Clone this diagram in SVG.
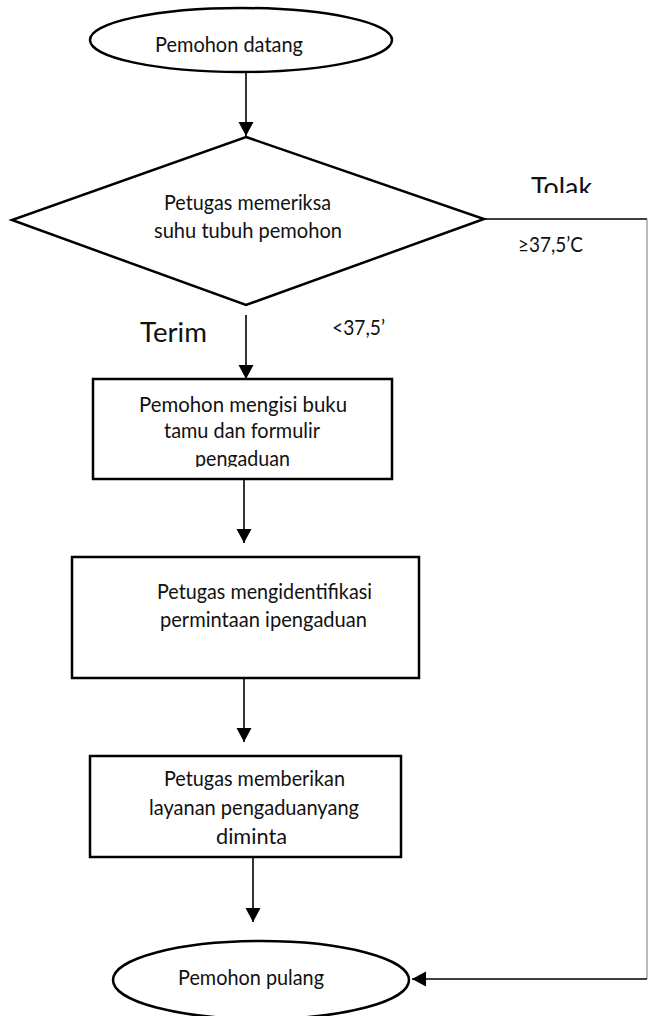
<svg xmlns="http://www.w3.org/2000/svg" width="648" height="1016" viewBox="0 0 648 1016">
<style>
.shape{fill:#fff;stroke:#000;stroke-width:2.5}
.t{font-family:Lato,"Liberation Sans",sans-serif;font-size:21px;fill:#111;text-anchor:middle}
.big{font-size:27px}
.c{fill:none;stroke:#000;stroke-width:1.6}
.thin{fill:none;stroke:#777;stroke-width:1}
</style>
<defs>
<marker id="ah" markerUnits="userSpaceOnUse" markerWidth="16" markerHeight="16" refX="14" refY="7.5" orient="auto">
<path d="M0,0 L14,7.5 L0,15 Z" fill="#000"/>
</marker>
<clipPath id="clipTolak"><rect x="500" y="150" width="140" height="43"/></clipPath>
<clipPath id="clipBox1"><rect x="95" y="381" width="295" height="86"/></clipPath>
</defs>
<rect width="648" height="1016" fill="#fff"/>

<g id="connectors">
<line class="c" x1="246" y1="72" x2="246" y2="136" marker-end="url(#ah)"/>
<line class="c" x1="246" y1="315" x2="246" y2="379" marker-end="url(#ah)"/>
<line class="c" x1="244" y1="480" x2="244" y2="543" marker-end="url(#ah)"/>
<line class="c" x1="244" y1="679" x2="244" y2="742" marker-end="url(#ah)"/>
<line class="c" x1="253" y1="858" x2="253" y2="922" marker-end="url(#ah)"/>
<line class="c" x1="484" y1="219" x2="647" y2="219"/>
<line class="thin" x1="647" y1="219" x2="647" y2="979"/>
<line class="c" x1="647" y1="979" x2="412" y2="979" marker-end="url(#ah)"/>
<g id="label-tolak" clip-path="url(#clipTolak)"><text class="t big" x="561.5" y="197" textLength="61" lengthAdjust="spacingAndGlyphs">Tolak</text></g>
<text class="t" x="550.5" y="252" textLength="65" lengthAdjust="spacingAndGlyphs">≥37,5’C</text>
<text class="t big" x="173.5" y="342" textLength="67" lengthAdjust="spacingAndGlyphs">Terim</text>
<text class="t" x="358.5" y="335" textLength="53" lengthAdjust="spacingAndGlyphs">&lt;37,5’</text>
</g>

<g id="start">
<ellipse class="shape" cx="241" cy="40" rx="151" ry="32"/>
<text class="t" x="229" y="52" textLength="148" lengthAdjust="spacingAndGlyphs">Pemohon datang</text>
</g>

<g id="decision">
<polygon class="shape" points="246,137 484,219 246,305 12,220"/>
<text class="t" x="247.5" y="210" textLength="167" lengthAdjust="spacingAndGlyphs">Petugas memeriksa</text>
<text class="t" x="248" y="238" textLength="188" lengthAdjust="spacingAndGlyphs">suhu tubuh pemohon</text>
</g>

<g id="step1">
<rect class="shape" x="93" y="379" width="299" height="100"/>
<text class="t" x="243" y="412" textLength="208" lengthAdjust="spacingAndGlyphs">Pemohon mengisi  buku</text>
<text class="t" x="242" y="438" textLength="156" lengthAdjust="spacingAndGlyphs">tamu dan formulir</text>
<g clip-path="url(#clipBox1)"><text class="t" x="242.5" y="466" textLength="95" lengthAdjust="spacingAndGlyphs">pengaduan</text></g>
</g>

<g id="step2">
<rect class="shape" x="72" y="557" width="347" height="121"/>
<text class="t" x="264.5" y="599" textLength="215" lengthAdjust="spacingAndGlyphs">Petugas mengidentifikasi</text>
<text class="t" x="263.5" y="627" textLength="207" lengthAdjust="spacingAndGlyphs">permintaan ipengaduan</text>
</g>

<g id="step3">
<rect class="shape" x="90" y="756" width="311" height="101"/>
<text class="t" x="254.5" y="786" textLength="181" lengthAdjust="spacingAndGlyphs">Petugas memberikan</text>
<text class="t" x="254" y="815" textLength="210" lengthAdjust="spacingAndGlyphs">layanan pengaduanyang</text>
<text class="t" x="251.5" y="844" textLength="71" lengthAdjust="spacingAndGlyphs">diminta</text>
</g>

<g id="end">
<ellipse class="shape" cx="261" cy="980" rx="148" ry="39"/>
<text class="t" x="251" y="985" textLength="146" lengthAdjust="spacingAndGlyphs">Pemohon pulang</text>
</g>
</svg>
